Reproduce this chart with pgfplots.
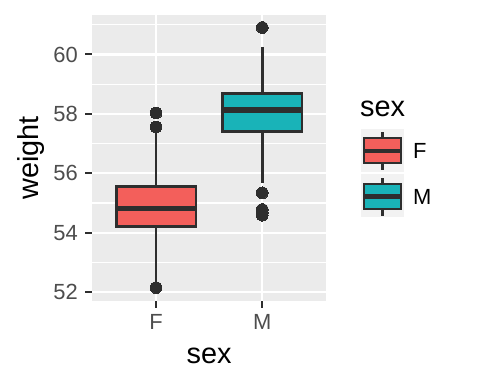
\documentclass[border=0pt]{standalone}
\usepackage{pgfplots}
\pgfplotsset{compat=1.18}
\usepgfplotslibrary{statistics}
\usepackage{fontspec}
\setmainfont{Liberation Sans}
\definecolor{Fcol}{HTML}{F35F5B}
\definecolor{Mcol}{HTML}{19B3B8}
\definecolor{dark}{HTML}{2E2E2E}
\definecolor{tickgrey}{HTML}{4D4D4D}
\definecolor{panelbg}{HTML}{EBEBEB}
\definecolor{keybg}{HTML}{F2F2F2}
\begin{document}
\begin{tikzpicture}
\path[use as bounding box] (-92.3bp,-83.3bp) rectangle (387.7bp,300.7bp);
\begin{axis}[
  scale only axis,
  width=233.7bp, height=285.7bp,
  at={(0,0)}, anchor=south west,
  xmin=0.4, xmax=2.6, ymin=51.71, ymax=61.33,
  xtick={1,2}, xticklabels={F,M},
  ytick={52,54,56,58,60},
  minor ytick={53,55,57,59,61},
  xtick pos=bottom, ytick pos=left,
  tick align=outside,
  major tick length=7bp, minor tick length=0pt,
  tick style={draw=dark, line width=2bp},
  axis line style={draw=none},
  axis background/.style={fill=panelbg},
  grid=both,
  major grid style={draw=white, line width=2.2bp},
  minor grid style={draw=white, line width=1.1bp},
  /pgf/number format/assume math mode=true,
  ticklabel style={font=\fontsize{22}{24}\selectfont, text=tickgrey},
  yticklabel style={anchor=east, inner sep=0pt, xshift=-7.3bp},
  xticklabel style={anchor=north, inner sep=0pt, yshift=-6.3bp},
  boxplot/draw direction=y,
]
\addplot[draw=dark, line width=2.6bp, mark=*, mark size=5.9bp, mark options={fill=dark, draw=dark, line width=0pt},
  boxplot/every box/.style={draw=dark, fill=Fcol, line width=2.6bp},
  boxplot/every whisker/.style={draw=dark, line width=2.6bp},
  boxplot/every median/.style={draw=dark, line width=5.2bp},
  boxplot prepared={draw position=1, median=54.82, upper quartile=55.55,
    lower quartile=54.20, upper whisker=57.40, lower whisker=52.29,
    box extend=0.75, whisker extend=0}]
  coordinates {(1,58.03) (1,57.56) (1,52.15)};
\addplot[draw=dark, line width=2.6bp, mark=*, mark size=5.9bp, mark options={fill=dark, draw=dark, line width=0pt},
  boxplot/every box/.style={draw=dark, fill=Mcol, line width=2.6bp},
  boxplot/every whisker/.style={draw=dark, line width=2.6bp},
  boxplot/every median/.style={draw=dark, line width=5.2bp},
  boxplot prepared={draw position=2, median=58.13, upper quartile=58.69,
    lower quartile=57.40, upper whisker=60.24, lower whisker=55.66,
    box extend=0.75, whisker extend=0}]
  coordinates {(2,60.91) (2,55.34) (2,54.78) (2,54.68) (2,54.59)};
\end{axis}
% axis titles
\node[rotate=90, font=\fontsize{29}{32}\selectfont, anchor=center] at (-61.3bp,142.85bp) {weight};
\node[font=\fontsize{29}{32}\selectfont, anchor=base] at (116.85bp,-62.3bp) {sex};
% legend
\node[font=\fontsize{29}{32}\selectfont, anchor=base west, inner sep=0pt] at (267.7bp,183.7bp) {sex};
\fill[keybg] (268.7bp,128.7bp) rectangle (311.7bp,171.7bp);
\fill[keybg] (268.7bp,83.7bp) rectangle (311.7bp,126.7bp);
\draw[dark, line width=2.4bp] (290.2bp,130.7bp) -- (290.2bp,168.7bp);
\draw[dark, line width=2.4bp, fill=Fcol] (271.7bp,137.7bp) rectangle (308.7bp,162.7bp);
\draw[dark, line width=4.6bp] (271.7bp,149.7bp) -- (308.7bp,149.7bp);
\draw[dark, line width=2.4bp] (290.2bp,84.7bp) -- (290.2bp,122.7bp);
\draw[dark, line width=2.4bp, fill=Mcol] (271.7bp,91.7bp) rectangle (308.7bp,116.7bp);
\draw[dark, line width=4.6bp] (271.7bp,104.2bp) -- (308.7bp,104.2bp);
\node[font=\fontsize{22}{24}\selectfont, anchor=west, inner sep=0pt] at (320.7bp,149.7bp) {F};
\node[font=\fontsize{22}{24}\selectfont, anchor=west, inner sep=0pt] at (320.7bp,104.2bp) {M};
\end{tikzpicture}
\end{document}
